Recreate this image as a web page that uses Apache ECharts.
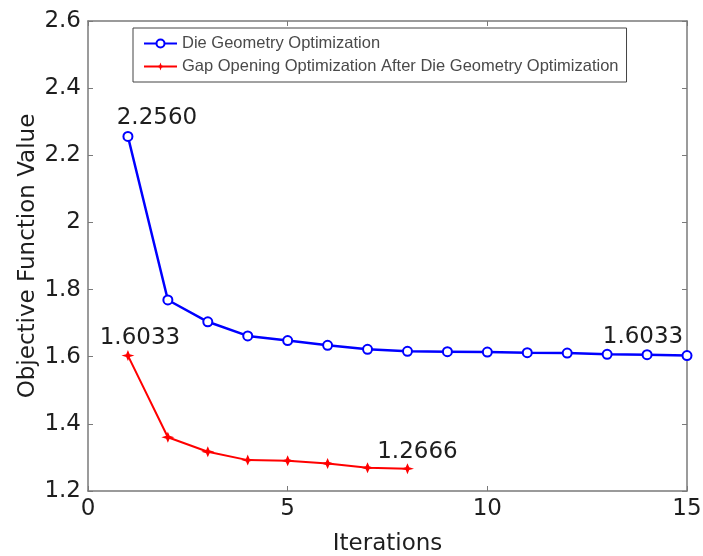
<!DOCTYPE html>
<html>
<head>
<meta charset="utf-8">
<script src="https://cdn.jsdelivr.net/npm/echarts@6/dist/echarts.min.js"></script>
<style>
  html, body { margin: 0; padding: 0; background: #fff; }
  #chart { width: 703px; height: 556px; }
</style>
</head>
<body>
<div id="chart"></div>
<script>
// Objective function value per iteration for the two optimization stages
const iterations = [1, 2, 3, 4, 5, 6, 7, 8, 9, 10, 11, 12, 13, 14, 15];
const dieGeometry = [2.2560, 1.769, 1.704, 1.662, 1.648, 1.634, 1.622, 1.616, 1.615, 1.614, 1.612, 1.611, 1.607, 1.606, 1.6033];
const gapIterations = [1, 2, 3, 4, 5, 6, 7, 8];
const gapOpening = [1.6033, 1.360, 1.317, 1.292, 1.290, 1.282, 1.269, 1.2666];
const seriesNames = [
  'Die Geometry Optimization',
  'Gap Opening Optimization After Die Geometry Optimization'
];
const xTicks = { min: 0, max: 15, step: 5 };
const yTicks = { min: 1.2, max: 2.6, step: 0.2 };

const FONT = 'DejaVu Sans';
const AXIS_GREY = '#7a7a7a';
const TEXT = '#1e1e1e';

// value annotations: index into series -> label offset
const dieNotes = { 0: [29, 4], 14: [-44, 3] };
const gapNotes = { 0: [12, 4], 7: [10, 5] };

function buildPoints(xs, ys, notes) {
  return xs.map((x, i) => {
    const item = { value: [x, ys[i]] };
    if (notes[i]) {
      item.label = {
        show: true,
        position: 'top',
        distance: 5,
        offset: notes[i],
        formatter: () => ys[i].toFixed(4),
        fontFamily: FONT,
        fontSize: 23,
        color: TEXT
      };
    }
    return item;
  });
}

const frameAxis = {
  axisLine: { show: true, onZero: false, lineStyle: { color: AXIS_GREY, width: 1.5 } },
  axisTick: { show: true, inside: true, length: 5, lineStyle: { color: AXIS_GREY, width: 1 } },
  splitLine: { show: false }
};

const chart = echarts.init(document.getElementById('chart'), null, { renderer: 'canvas' });
chart.setOption({
  animation: false,
  backgroundColor: '#fff',
  grid: { left: 88, right: 16, top: 21, bottom: 65, containLabel: false, outerBoundsMode: 'none' },
  legend: {
    orient: 'vertical',
    left: 133,
    top: 28,
    padding: [7, 8, 7, 10],
    itemGap: 6,
    itemWidth: 33,
    itemHeight: 10,
    borderColor: '#444',
    borderWidth: 1,
    backgroundColor: '#fff',
    textStyle: { fontFamily: 'Liberation Sans', fontSize: 16.5, color: '#4a4a4a' },
    data: seriesNames
  },
  xAxis: [
    Object.assign({}, frameAxis, {
      type: 'value', position: 'bottom',
      min: xTicks.min, max: xTicks.max, interval: xTicks.step,
      name: 'Iterations', nameLocation: 'middle', nameGap: 42, nameMoveOverlap: false,
      nameTextStyle: { fontFamily: FONT, fontSize: 23, color: TEXT },
      axisLabel: { show: true, margin: 7, fontFamily: FONT, fontSize: 23, color: TEXT }
    }),
    Object.assign({}, frameAxis, {
      type: 'value', position: 'top',
      min: xTicks.min, max: xTicks.max, interval: xTicks.step,
      axisLabel: { show: false }
    })
  ],
  yAxis: [
    Object.assign({}, frameAxis, {
      type: 'value', position: 'left',
      min: yTicks.min, max: yTicks.max, interval: yTicks.step,
      name: 'Objective Function Value', nameLocation: 'middle', nameGap: 48, nameMoveOverlap: false,
      nameTextStyle: { fontFamily: FONT, fontSize: 23, color: TEXT },
      axisLabel: {
        show: true, margin: 7, fontFamily: FONT, fontSize: 23, color: TEXT,
        formatter: v => String(Math.round(v * 10) / 10)
      }
    }),
    Object.assign({}, frameAxis, {
      type: 'value', position: 'right',
      min: yTicks.min, max: yTicks.max, interval: yTicks.step,
      axisLabel: { show: false }
    })
  ],
  series: [
    {
      name: seriesNames[0],
      type: 'line',
      xAxisIndex: 0, yAxisIndex: 0,
      data: buildPoints(iterations, dieGeometry, dieNotes),
      symbol: 'emptyCircle',
      symbolSize: 9,
      lineStyle: { color: '#0000ff', width: 2.5 },
      itemStyle: { color: '#0000ff', borderColor: '#0000ff', borderWidth: 2 },
      z: 3
    },
    {
      name: seriesNames[1],
      type: 'line',
      xAxisIndex: 0, yAxisIndex: 0,
      data: buildPoints(gapIterations, gapOpening, gapNotes),
      symbol: 'path://M0,-6 L1.6,-1.6 L6,0 L1.6,1.6 L0,6 L-1.6,1.6 L-6,0 L-1.6,-1.6 Z',
      symbolSize: [13, 11],
      lineStyle: { color: '#ff0000', width: 2 },
      itemStyle: { color: '#ff0000' },
      z: 3
    }
  ]
});
</script>
</body>
</html>
